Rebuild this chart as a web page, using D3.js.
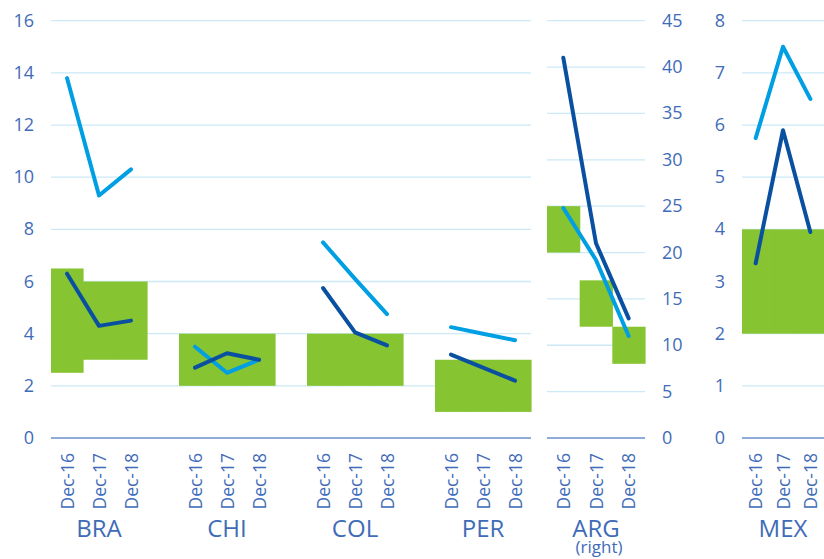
<!DOCTYPE html>
<html>
<head>
<meta charset="utf-8">
<script src="https://cdn.jsdelivr.net/npm/d3@7"></script>
<style>
  body { margin: 0; background: #fff; }
  text { font-family: "Open Sans", "Noto Sans", sans-serif; fill: #3f6cb8; }
</style>
</head>
<body>
<script>
// data
const countries = ["BRA", "CHI", "COL", "PER", "ARG", "MEX"];
const dates = ["Dec-16", "Dec-17", "Dec-18"];
// light blue series
const seriesLight = [
  [13.8, 9.3, 10.3],
  [3.5, 2.5, 3.0],
  [7.5, 6.1, 4.75],
  [4.25, 4.0, 3.75],
  [24.8, 19.2, 11.0],
  [5.75, 7.5, 6.5]
];
// dark blue series
const seriesDark = [
  [6.3, 4.3, 4.5],
  [2.7, 3.25, 3.0],
  [5.75, 4.05, 3.55],
  [3.2, 2.7, 2.2],
  [41.0, 21.0, 12.9],
  [3.35, 5.9, 3.95]
];
// green target ranges
const rangeLow = [
  [2.5, 3, 3],
  [2, 2, 2],
  [2, 2, 2],
  [1, 1, 1],
  [20, 12, 8],
  [2, 2, 2]
];
const rangeHigh = [
  [6.5, 6, 6],
  [4, 4, 4],
  [4, 4, 4],
  [3, 3, 3],
  [25, 17, 12],
  [4, 4, 4]
];
const leftTicks = d3.range(0, 17, 2);
const argTicks = d3.range(0, 46, 5);
const mexTicks = d3.range(0, 9, 1);

const W = 824, H = 559;
const green = "#87c431", light = "#009fe3", dark = "#0a50a1";
const gridCol = "#cbe9f7", baseCol = "#6a8fcc";

const svg = d3.select("body").append("svg")
  .attr("width", W).attr("height", H);

const y0 = 438, yTop = 20.7;
const yLeft = d3.scaleLinear().domain([0, 16]).range([y0, yTop]);
const yArg = d3.scaleLinear().domain([0, 45]).range([y0, yTop]);
const yMex = d3.scaleLinear().domain([0, 8]).range([y0, yTop]);

// slots for the left panel: 4 groups of 3 dates with a blank slot between
const leftSlots = [];
countries.slice(0, 4).forEach((c, i) => {
  dates.forEach(d => leftSlots.push(c + "|" + d));
  if (i < 3) leftSlots.push("gap" + i);
});
const xLeft = d3.scaleBand().domain(leftSlots).range([51, 531]);
const xArg = d3.scaleBand().domain(dates.map(d => "ARG|" + d)).range([547, 645]);
const xMex = d3.scaleBand().domain(dates.map(d => "MEX|" + d)).range([742, 824]);

const panels = [
  {x: xLeft, y: yLeft, ticks: leftTicks, x0: 51, x1: 531, countries: [0, 1, 2, 3]},
  {x: xArg, y: yArg, ticks: argTicks, x0: 547, x1: 645, countries: [4]},
  {x: xMex, y: yMex, ticks: mexTicks, x0: 742, x1: 824, countries: [5]}
];

// gridlines
panels.forEach(p => {
  svg.append("g").selectAll("line")
    .data(p.ticks.filter(t => t > 0))
    .join("line")
      .attr("x1", p.x0).attr("x2", p.x1)
      .attr("y1", d => p.y(d)).attr("y2", d => p.y(d))
      .attr("stroke", gridCol).attr("stroke-width", 1.3);
});

// axis labels
svg.append("g").selectAll("text").data(leftTicks).join("text")
  .attr("x", 34).attr("y", d => yLeft(d) + 6)
  .attr("text-anchor", "end").attr("font-size", 18)
  .text(d => d);
svg.append("g").selectAll("text").data(argTicks).join("text")
  .attr("x", 662).attr("y", d => yArg(d) + 6)
  .attr("text-anchor", "start").attr("font-size", 18)
  .text(d => d);
svg.append("g").selectAll("text").data(mexTicks).join("text")
  .attr("x", 720).attr("y", d => yMex(d) + 6)
  .attr("text-anchor", "middle").attr("font-size", 18)
  .text(d => d);

// green range bars
panels.forEach(p => {
  p.countries.forEach(ci => {
    svg.append("g").selectAll("rect")
      .data(dates.map((d, di) => ({key: countries[ci] + "|" + d, lo: rangeLow[ci][di], hi: rangeHigh[ci][di]})))
      .join("rect")
        .attr("x", d => p.x(d.key))
        .attr("width", p.x.bandwidth() + 0.6)
        .attr("y", d => p.y(d.hi))
        .attr("height", d => p.y(d.lo) - p.y(d.hi))
        .attr("fill", green);
  });
});

// baselines
panels.forEach(p => {
  svg.append("line")
    .attr("x1", p.x0).attr("x2", p.x1)
    .attr("y1", y0).attr("y2", y0)
    .attr("stroke", baseCol).attr("stroke-width", 1.6);
});

// lines
panels.forEach(p => {
  p.countries.forEach(ci => {
    [[seriesLight, light], [seriesDark, dark]].forEach(([vals, col]) => {
      const line = d3.line()
        .x((v, di) => p.x(countries[ci] + "|" + dates[di]) + p.x.bandwidth() / 2)
        .y(v => p.y(v));
      svg.append("path")
        .datum(vals[ci])
        .attr("d", line)
        .attr("fill", "none")
        .attr("stroke", col)
        .attr("stroke-width", 4)
        .attr("stroke-linecap", "round")
        .attr("stroke-linejoin", "round");
    });
  });
});

// date labels and country names
panels.forEach(p => {
  p.countries.forEach(ci => {
    dates.forEach(d => {
      const cx = p.x(countries[ci] + "|" + d) + p.x.bandwidth() / 2;
      svg.append("text")
        .attr("transform", `translate(${cx + 6.5},453) rotate(-90)`)
        .attr("text-anchor", "end")
        .attr("font-size", 17.5)
        .text(d);
    });
    const mid = p.x(countries[ci] + "|" + dates[1]) + p.x.bandwidth() / 2;
    svg.append("text")
      .attr("x", mid).attr("y", 537)
      .attr("text-anchor", "middle").attr("font-size", 24)
      .text(countries[ci]);
    if (countries[ci] === "ARG") {
      svg.append("text")
        .attr("x", mid + 3).attr("y", 553)
        .attr("text-anchor", "middle").attr("font-size", 17)
        .text("(right)");
    }
  });
});
</script>
</body>
</html>
